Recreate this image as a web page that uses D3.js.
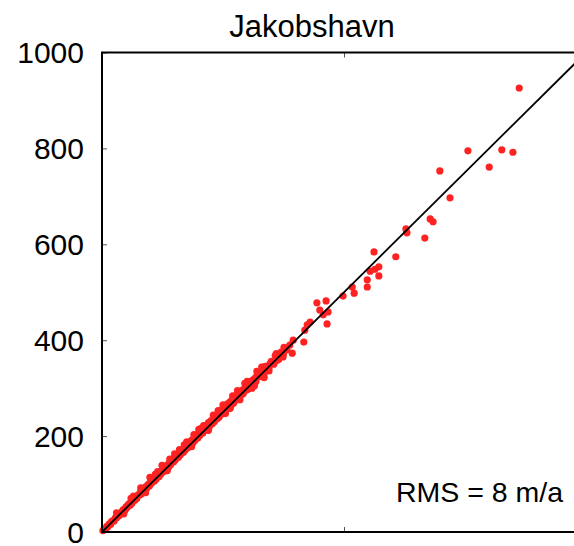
<!DOCTYPE html>
<html>
<head>
<meta charset="utf-8">
<script src="https://cdn.jsdelivr.net/npm/d3@7"></script>
<style>
  html, body { margin: 0; padding: 0; background: #ffffff; }
  svg { display: block; }
  text { font-family: "Liberation Sans", Arial, Helvetica, sans-serif; fill: #000; }
</style>
</head>
<body>
<svg id="chart" width="574" height="546"></svg>
<script>
// ---- data ----
const title = "Jakobshavn";
const annotation = "RMS = 8 m/a";
const yTicks = [0, 200, 400, 600, 800, 1000];
const xTicks = [0, 500, 1000];
const domain = [0, 1000];

// observed (x) vs modelled (y) velocity, m/a
const pointsX = [
  2, 5, 8, 10, 12, 15, 18, 20, 23, 25, 28, 30, 33, 35, 38, 40, 43, 45, 48, 50,
  52, 55, 58, 60, 62, 65, 68, 70, 72, 75, 78, 80, 82, 85, 88, 90, 92, 95, 98, 100,
  102, 105, 108, 110, 112, 115, 118, 120, 122, 125, 128, 130, 132, 135, 138, 140, 142, 145, 148, 150,
  152, 155, 158, 160, 162, 165, 168, 170, 172, 175, 178, 180, 182, 185, 188, 190, 192, 195, 198, 200,
  202, 205, 208, 210, 212, 215, 218, 220, 222, 225, 228, 230, 232, 235, 238, 240, 242, 245, 248, 250,
  252, 255, 258, 260, 262, 265, 268, 270, 272, 275, 278, 280, 282, 285, 288, 290, 292, 295, 298, 300,
  302, 305, 308, 310, 312, 315, 318, 320, 325, 330, 335, 340, 345, 350, 355, 360, 365, 370, 375,
  30, 45, 65, 90, 110, 135, 160, 185, 200, 220, 240, 255, 270, 285, 300, 315, 330, 345, 360, 230,
  175, 140, 115, 250, 265, 280, 190, 210,
  60, 80, 99, 124, 150, 170, 205, 295, 310, 320, 335, 322, 336, 348, 358, 362, 376,
  374, 382, 388, 393, 395, 417, 419, 424, 430, 444, 450, 457, 463, 465, 467, 498, 517, 521,
  548, 548, 554, 562, 564, 572, 572, 607,
  630, 628, 667, 678, 684, 719, 698, 800, 756, 826, 849, 862
];
const pointsY = [
  3, 6, 7, 12, 11, 17, 16, 22, 24, 23, 30, 29, 35, 34, 40, 38, 45, 47, 46, 53,
  51, 58, 56, 63, 60, 68, 66, 73, 70, 78, 77, 84, 80, 88, 86, 94, 90, 99, 96, 104,
  101, 109, 106, 115, 110, 119, 116, 125, 121, 130, 126, 135, 131, 140, 136, 146, 141, 150, 146, 156,
  151, 161, 156, 166, 161, 171, 166, 177, 171, 181, 176, 187, 181, 191, 186, 197, 191, 201, 196, 207,
  201, 212, 206, 217, 211, 222, 216, 228, 220, 232, 226, 238, 230, 242, 236, 248, 240, 253, 246, 258,
  250, 262, 256, 268, 259, 272, 266, 278, 269, 282, 276, 288, 279, 292, 286, 296, 289, 300, 296, 306,
  298, 310, 305, 316, 308, 320, 314, 326, 324, 335, 330, 346, 342, 356, 350, 366, 360, 375, 371,
  40, 38, 75, 82, 120, 128, 172, 178, 214, 212, 253, 247, 284, 276, 314, 305, 344, 336, 372, 244,
  188, 152, 126, 265, 258, 295, 203, 222,
  70, 92, 114, 139, 163, 182, 216, 310, 300, 335, 322, 330, 345, 352, 368, 358, 385,
  365, 380, 390, 373, 400, 396, 421, 432, 438, 478, 463, 453, 482, 434, 459, 492, 511, 498,
  526, 511, 544, 584, 548, 553, 534, 574,
  624, 632, 613, 653, 647, 697, 753, 761, 795, 797, 792, 926
];

// ---- layout ----
const svg = d3.select("#chart");
const plotLeft = 102, plotRight = 586, plotTop = 52.5, plotBottom = 532;

const x = d3.scaleLinear().domain(domain).range([plotLeft, plotRight]);
const y = d3.scaleLinear().domain(domain).range([plotBottom, plotTop]);

svg.append("rect").attr("width", 574).attr("height", 546).attr("fill", "#fff");

svg.append("defs").append("clipPath").attr("id", "plotclip")
  .append("rect").attr("x", plotLeft).attr("y", plotTop)
  .attr("width", plotRight - plotLeft).attr("height", plotBottom - plotTop);

// points
const pts = pointsX.map((v, i) => ({ x: v, y: pointsY[i] }));
svg.append("g")
  .selectAll("circle")
  .data(pts)
  .join("circle")
  .attr("cx", d => x(d.x))
  .attr("cy", d => y(d.y))
  .attr("r", 3.6)
  .attr("fill", "#ff2222");

// 1:1 line
svg.append("g").attr("clip-path", "url(#plotclip)")
  .append("line")
  .attr("x1", x(domain[0])).attr("y1", y(domain[0]))
  .attr("x2", x(domain[1])).attr("y2", y(domain[1]))
  .attr("stroke", "#000").attr("stroke-width", 1.8);

// axes (inward ticks)
const yAxis = d3.axisLeft(y).tickValues(yTicks).tickSize(-5).tickPadding(18).tickFormat(d3.format("d"));
const gy = svg.append("g").attr("transform", `translate(${plotLeft},0)`).call(yAxis);
gy.select(".domain").remove();
gy.selectAll(".tick line").attr("stroke", "#555").attr("stroke-width", 1);
gy.selectAll(".tick text").attr("font-size", 30).attr("dy", "0.34em")
  .style("font-family", '"Liberation Sans", Arial, Helvetica, sans-serif').attr("fill", "#000");

const xAxisB = d3.axisBottom(x).tickValues(xTicks).tickSize(-5).tickFormat("");
const gxb = svg.append("g").attr("transform", `translate(0,${plotBottom})`).call(xAxisB);
gxb.select(".domain").remove();
gxb.selectAll(".tick line").attr("stroke", "#555").attr("stroke-width", 1);

const xAxisT = d3.axisTop(x).tickValues(xTicks).tickSize(-5).tickFormat("");
const gxt = svg.append("g").attr("transform", `translate(0,${plotTop})`).call(xAxisT);
gxt.select(".domain").remove();
gxt.selectAll(".tick line").attr("stroke", "#555").attr("stroke-width", 1);

// frame
svg.append("rect")
  .attr("x", plotLeft).attr("y", plotTop)
  .attr("width", plotRight - plotLeft).attr("height", plotBottom - plotTop)
  .attr("fill", "none").attr("stroke", "#000").attr("stroke-width", 2);

// title
svg.append("text")
  .attr("x", 312).attr("y", 37)
  .attr("text-anchor", "middle")
  .attr("font-size", 31)
  .text(title);

// annotation
svg.append("text")
  .attr("x", 563).attr("y", 502)
  .attr("text-anchor", "end")
  .attr("font-size", 28.5)
  .text(annotation);
</script>
</body>
</html>
